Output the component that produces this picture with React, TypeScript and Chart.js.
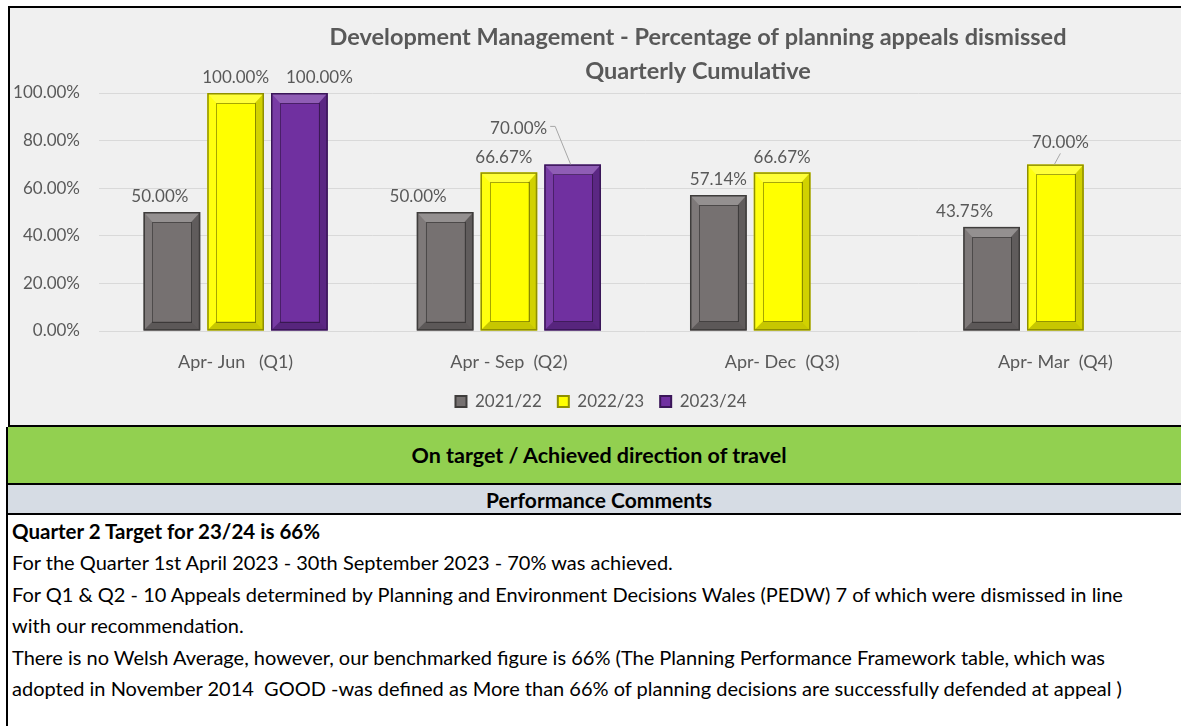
import React, { useEffect, useRef } from 'react';
import { Chart, registerables } from 'chart.js';

Chart.register(...registerables);

const categories = ['Apr- Jun   (Q1)', 'Apr - Sep  (Q2)', 'Apr- Dec  (Q3)', 'Apr- Mar  (Q4)'];
const seriesNames = ['2021/22', '2022/23', '2023/24'];
const values2021 = [50.0, 50.0, 57.14, 43.75];
const values2022 = [100.0, 66.67, 66.67, 70.0];
const values2023 = [100.0, 70.0, null, null];
const yTickValues = [0, 20, 40, 60, 80, 100];
const titleLines = ['Development Management - Percentage of planning appeals dismissed', 'Quarterly Cumulative'];

const statusText = 'On target / Achieved direction of travel';
const commentsHeader = 'Performance Comments';
const commentHeadline = 'Quarter 2 Target for 23/24 is 66%';
const commentLines = [
  'For the Quarter 1st April 2023 - 30th September 2023 - 70% was achieved.',
  'For Q1 & Q2 - 10 Appeals determined by Planning and Environment Decisions Wales (PEDW) 7 of which were dismissed in line',
  'with our recommendation.',
  'There is no Welsh Average, however, our benchmarked figure is 66% (The Planning Performance Framework table, which was',
  'adopted in November 2014  GOOD -was defined as More than 66% of planning decisions are successfully defended at appeal )',
];

// styling
const FONT = 'Lato, "Open Sans", sans-serif';
const TEXT_GREY = '#595959';
const fills = ['#767171', '#ffff00', '#7030a0'];
const borders = ['#3f3d3c', '#8f8f00', '#3a1658'];

// manual label placements (dx, dy from default spot above bar), [dataset][index]
const labelNudges: [number, number][][] = [
  [[-12, 0], [-27, 0], [0, 0], [-27, 0]],
  [[0, 0], [-5, 0], [0, 0], [5, -7]],
  [[20, 0], [-54, -21], [0, 0], [0, 0]],
];
const leaderLines: boolean[][] = [
  [false, false, false, false],
  [false, false, false, true],
  [false, true, false, false],
];

const bevelPlugin = {
  id: 'bevel',
  afterDatasetsDraw(chart: any) {
    const ctx = chart.ctx;
    chart.data.datasets.forEach((ds: any, di: number) => {
      const meta = chart.getDatasetMeta(di);
      meta.data.forEach((bar: any, i: number) => {
        const v = ds.data[i];
        if (v === null || v === undefined) return;
        const { x, y, base, width } = bar.getProps(['x', 'y', 'base', 'width'], true);
        const l = x - width / 2, r = x + width / 2, t = y, b = base;
        const ins = 9;
        const il = l + ins, ir = r - ins, it = t + ins + 1, ib = b - ins;
        ctx.save();
        const band = (pts: number[][], color: string) => {
          ctx.beginPath();
          ctx.moveTo(pts[0][0], pts[0][1]);
          for (let k = 1; k < pts.length; k++) ctx.lineTo(pts[k][0], pts[k][1]);
          ctx.closePath();
          ctx.fillStyle = color;
          ctx.fill();
        };
        band([[l, t], [r, t], [ir, it], [il, it]], 'rgba(255,255,255,0.22)');
        band([[l, t], [il, it], [il, ib], [l, b]], 'rgba(255,255,255,0.06)');
        band([[r, t], [r, b], [ir, ib], [ir, it]], 'rgba(0,0,0,0.18)');
        band([[l, b], [il, ib], [ir, ib], [r, b]], 'rgba(0,0,0,0.22)');
        ctx.strokeStyle = 'rgba(0,0,0,0.35)';
        ctx.lineWidth = 1;
        ctx.strokeRect(Math.round(il) + 0.5, Math.round(it) + 0.5, Math.round(ir - il), Math.round(ib - it));
        ctx.strokeStyle = borders[di];
        ctx.lineWidth = 1.5;
        ctx.strokeRect(l + 0.75, t + 0.75, width - 1.5, b - t - 1.5);
        ctx.restore();
      });
    });
  },
};

const dataLabelPlugin = {
  id: 'dataLabels',
  afterDatasetsDraw(chart: any) {
    const ctx = chart.ctx;
    ctx.save();
    ctx.font = `17px ${FONT}`;
    ctx.fillStyle = TEXT_GREY;
    ctx.textAlign = 'center';
    ctx.textBaseline = 'middle';
    chart.data.datasets.forEach((ds: any, di: number) => {
      const meta = chart.getDatasetMeta(di);
      meta.data.forEach((bar: any, i: number) => {
        const v = ds.data[i];
        if (v === null || v === undefined) return;
        const [dx, dy] = labelNudges[di][i];
        const lx = bar.x + dx;
        const ly = bar.y - 15 + dy;
        const text = `${v.toFixed(2)}%`;
        ctx.fillText(text, lx, ly);
        if (leaderLines[di][i]) {
          const tw = ctx.measureText(text).width;
          ctx.strokeStyle = '#a6a6a6';
          ctx.lineWidth = 1;
          ctx.beginPath();
          if (dx < 0) {
            ctx.moveTo(lx + tw / 2 + 3, ly - 2);
            ctx.lineTo(lx + tw / 2 + 8, ly - 2);
            ctx.lineTo(bar.x - 2, bar.y);
          } else {
            ctx.moveTo(lx, ly + 11);
            ctx.lineTo(bar.x - 1, bar.y);
          }
          ctx.stroke();
        }
      });
    });
    ctx.restore();
  },
};

const titleShiftPlugin = {
  id: 'titleShift',
  afterLayout(chart: any) {
    const tb = chart.titleBlock;
    if (tb) {
      tb.left += 97;
      tb.right += 97;
    }
  },
};

function ChartBox() {
  const ref = useRef<HTMLCanvasElement | null>(null);
  useEffect(() => {
    if (!ref.current) return;
    const seriesValues = [values2021, values2022, values2023];
    const chart = new Chart(ref.current, {
      type: 'bar',
      data: {
        labels: categories,
        datasets: seriesNames.map((name, i) => ({
          label: name,
          data: seriesValues[i],
          backgroundColor: fills[i],
          borderColor: borders[i],
          borderWidth: 0,
          categoryPercentage: 0.7,
          barPercentage: 0.89,
        })),
      },
      options: {
        responsive: false,
        animation: false,
        layout: { padding: { left: 0, right: 0, top: 0, bottom: 0 } },
        plugins: {
          title: {
            display: true,
            text: titleLines,
            color: TEXT_GREY,
            font: { family: FONT, size: 23.5, weight: 'bold', lineHeight: 34 / 23.5 },
            padding: { top: 12, bottom: 5 },
          },
          legend: {
            position: 'bottom',
            labels: {
              color: TEXT_GREY,
              font: { family: FONT, size: 17 },
              boxWidth: 11,
              boxHeight: 11,
              padding: 16,
              generateLabels: (c: any) =>
                c.data.datasets.map((ds: any, i: number) => ({
                  text: ds.label,
                  fillStyle: fills[i],
                  strokeStyle: borders[i],
                  lineWidth: 2,
                  fontColor: TEXT_GREY,
                  datasetIndex: i,
                  hidden: false,
                })),
            },
          },
          tooltip: { enabled: false },
        },
        scales: {
          x: {
            grid: { display: false, drawTicks: false },
            border: { display: false },
            ticks: { color: TEXT_GREY, font: { family: FONT, size: 18 }, padding: 20, maxRotation: 0 },
            afterFit: (scale: any) => {
              scale.height = 46;
            },
          },
          y: {
            min: 0,
            max: 100,
            afterFit: (scale: any) => {
              scale.width = 89;
            },
            afterBuildTicks: (scale: any) => {
              scale.ticks = yTickValues.map((v) => ({ value: v }));
            },
            grid: { color: '#d9d9d9', lineWidth: 1, drawTicks: false },
            border: { display: false },
            ticks: {
              color: TEXT_GREY,
              font: { family: FONT, size: 17 },
              padding: 19,
              callback: (v: any) => `${Number(v).toFixed(2)}%`,
            },
          },
        },
      },
      plugins: [titleShiftPlugin, bevelPlugin, dataLabelPlugin],
    });
    return () => chart.destroy();
  }, []);
  return <canvas ref={ref} width={1182} height={412} style={{ display: 'block', width: 1182, height: 412 }} />;
}

export default function App() {
  const lineStyle: React.CSSProperties = { height: 31.4, lineHeight: '31.4px', whiteSpace: 'pre' };
  return (
    <div
      style={{
        position: 'absolute',
        left: 0,
        top: 0,
        width: 1181,
        height: 726,
        overflow: 'hidden',
        background: '#ffffff',
        fontFamily: FONT,
      }}
    >
      <div
        style={{
          position: 'absolute',
          left: 8,
          top: 6,
          width: 1200,
          height: 417,
          borderTop: '2px solid #000',
          borderLeft: '2px solid #000',
          borderBottom: '2px solid #000',
          background: '#f0f0f0',
          overflow: 'hidden',
        }}
      >
        <ChartBox />
      </div>
      <div
        style={{
          position: 'absolute',
          left: 6,
          top: 427,
          width: 1182,
          height: 56,
          background: '#92d050',
          borderLeft: '2px solid #000',
          borderBottom: '2px solid #000',
          display: 'flex',
          alignItems: 'center',
          justifyContent: 'center',
          fontWeight: 'bold',
          fontSize: 21.5,
          color: '#000',
        }}
      >
        {statusText}
      </div>
      <div
        style={{
          position: 'absolute',
          left: 6,
          top: 485,
          width: 1182,
          height: 28,
          background: '#d6dce4',
          borderLeft: '2px solid #000',
          borderBottom: '2px solid #000',
          display: 'flex',
          alignItems: 'center',
          justifyContent: 'center',
          fontWeight: 'bold',
          fontSize: 21,
          color: '#000',
        }}
      >
        {commentsHeader}
      </div>
      <div
        style={{
          position: 'absolute',
          left: 6,
          top: 515,
          width: 1182,
          height: 220,
          borderLeft: '2px solid #000',
          paddingLeft: 4,
          paddingTop: 1,
          boxSizing: 'border-box',
          fontSize: 20,
          color: '#000',
        }}
      >
        <div style={{ ...lineStyle, fontWeight: 'bold', fontSize: 20.5 }}>{commentHeadline}</div>
        {commentLines.map((t, i) => (
          <div key={i} style={lineStyle}>
            {t}
          </div>
        ))}
      </div>
    </div>
  );
}
